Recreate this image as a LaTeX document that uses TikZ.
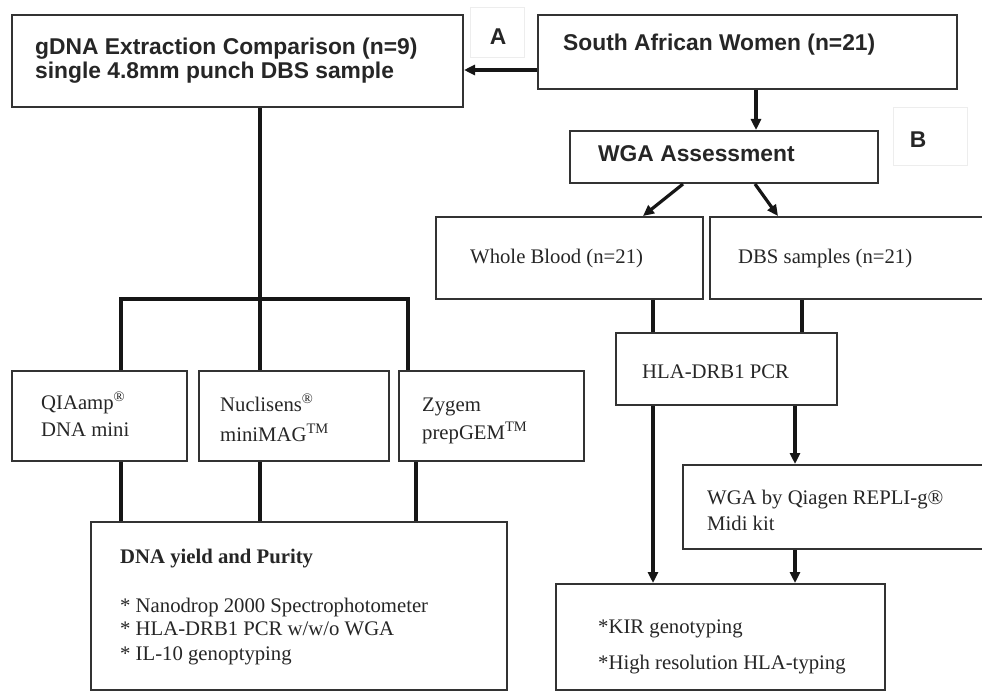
\documentclass[tikz,border=0pt]{standalone}
\usepackage{fontspec}
\setmainfont{Liberation Serif}
\newfontfamily\arialf{Liberation Sans}
\usetikzlibrary{arrows.meta}
\definecolor{txtc}{HTML}{262626}
\definecolor{boxc}{HTML}{333333}
\definecolor{linec}{HTML}{161616}
\begin{document}
\begin{tikzpicture}[x=1bp,y=-1bp,
  box/.style={draw=boxc, line width=2bp, inner sep=0, fill=white},
  conn/.style={draw=linec, line width=3.2bp},
  arr/.style={conn, -{Triangle[length=11bp,width=10bp]}},
  hd/.style={font=\arialf\bfseries\fontsize{22.9}{26}\selectfont, text=txtc, inner sep=0, anchor=base west},
  tm/.style={font=\fontsize{20.8}{24}\selectfont, text=txtc, inner sep=0, anchor=base west},
  tmb/.style={tm, font=\bfseries\fontsize{20.8}{24}\selectfont},
  faint/.style={draw=black!7, line width=1bp, inner sep=0}
]
\useasboundingbox (0,0) rectangle (982,694);
\fill[white] (0,0) rectangle (982,694);
\clip (0,0) rectangle (982,694);

% faint label frames
\node[faint, minimum width=54bp, minimum height=50bp] (fa) at (497,33) {};
\node[faint, minimum width=74bp, minimum height=57bp] (fb) at (930,136.5) {};
\node[hd, anchor=center] (la) at (498,37) {A};
\node[hd, anchor=center] (lb) at (918,140) {B};

% boxes
\node[box, minimum width=451bp, minimum height=92bp] (g) at (237.5,61) {};
\node[box, minimum width=419bp, minimum height=74bp] (saw) at (747.5,52) {};
\node[box, minimum width=308bp, minimum height=52bp] (wga) at (724,157) {};
\node[box, minimum width=267bp, minimum height=82bp] (wb) at (569.5,258) {};
\node[box, minimum width=285bp, minimum height=82bp] (dbs) at (852.5,258) {};
\node[box, minimum width=221bp, minimum height=72bp] (hla) at (726.5,369) {};
\node[box, minimum width=175bp, minimum height=90bp] (qia) at (99.5,416) {};
\node[box, minimum width=190bp, minimum height=90bp] (nuc) at (294,416) {};
\node[box, minimum width=185bp, minimum height=90bp] (zyg) at (491.5,416) {};
\node[box, minimum width=416bp, minimum height=168bp] (dna) at (299,606) {};
\node[box, minimum width=312bp, minimum height=84bp] (wgq) at (839,507) {};
\node[box, minimum width=329bp, minimum height=106bp] (kir) at (720.5,637) {};

% texts
\node[hd] (t1) at (35,55) {gDNA Extraction Comparison (n=9)};
\node[hd] (t2) at (35,79) {single 4.8mm punch DBS sample};
\node[hd] (t3) at (563,51) {South African Women (n=21)};
\node[hd] (t4) at (598,162) {WGA Assessment};
\node[tm] (t5) at (470,263) {Whole Blood (n=21)};
\node[tm] (t6) at (738,263) {DBS samples (n=21)};
\node[tm] (t7) at (642,378) {HLA-DRB1 PCR};
\node[tm] (t8) at (41,409) {QIAamp\textsuperscript{\textregistered}};
\node[tm] (t9) at (41,436) {DNA mini};
\node[tm] (t10) at (220,411) {Nuclisens\textsuperscript{\textregistered}};
\node[tm] (t11) at (220,441) {miniMAG\textsuperscript{TM}};
\node[tm] (t12) at (422,411) {Zygem};
\node[tm] (t13) at (422,439) {prepGEM\textsuperscript{TM}};
\node[tmb] (t14) at (120,563) {DNA yield and Purity};
\node[tm] (t15) at (120,612) {* Nanodrop 2000 Spectrophotometer};
\node[tm] (t16) at (120,635) {* HLA-DRB1 PCR w/w/o WGA};
\node[tm] (t17) at (120,660) {* IL-10 genoptyping};
\node[tm] (t18) at (707,504) {WGA by Qiagen REPLI-g\textregistered};
\node[tm] (t19) at (707,530) {Midi kit};
\node[tm] (t20) at (598,633) {*KIR genotyping};
\node[tm] (t21) at (598,669) {*High resolution HLA-typing};

% column coordinates
\coordinate (c1) at (121,299);
\coordinate (c2) at (260,299);
\coordinate (c3) at (408,299);
\coordinate (c4) at (416,0);
\coordinate (c5) at (756,0);
\coordinate (ya) at (0,70);
\coordinate (xa) at (683,0);
\coordinate (xb) at (643,0);
\coordinate (xc) at (755,0);
\coordinate (xd) at (778,0);
\coordinate (xe) at (653,0);
\coordinate (xf) at (802,0);
\coordinate (xg) at (795,0);

% left tree
\draw[conn] (g.south -| c2) -- (c2);
\draw[conn] (qia.north -| c1) |- (c3) -- (zyg.north -| c3);
\draw[conn] (c2) -- (nuc.north -| c2);
\draw[conn] (qia.south -| c1) -- (dna.north -| c1);
\draw[conn] (nuc.south -| c2) -- (dna.north -| c2);
\draw[conn] (zyg.south -| c4) -- (dna.north -| c4);

% right flow
\draw[arr] (saw.west |- ya) -- (g.east |- ya);
\draw[arr] (saw.south -| c5) -- (wga.north -| c5);
\draw[arr] (wga.south -| xa) -- (wb.north -| xb);
\draw[arr] (wga.south -| xc) -- (dbs.north -| xd);
\draw[conn] (wb.south -| xe) -- (hla.north -| xe);
\draw[conn] (dbs.south -| xf) -- (hla.north -| xf);
\draw[arr] (hla.south -| xe) -- (kir.north -| xe);
\draw[arr] (hla.south -| xg) -- (wgq.north -| xg);
\draw[arr] (wgq.south -| xg) -- (kir.north -| xg);
\end{tikzpicture}
\end{document}
